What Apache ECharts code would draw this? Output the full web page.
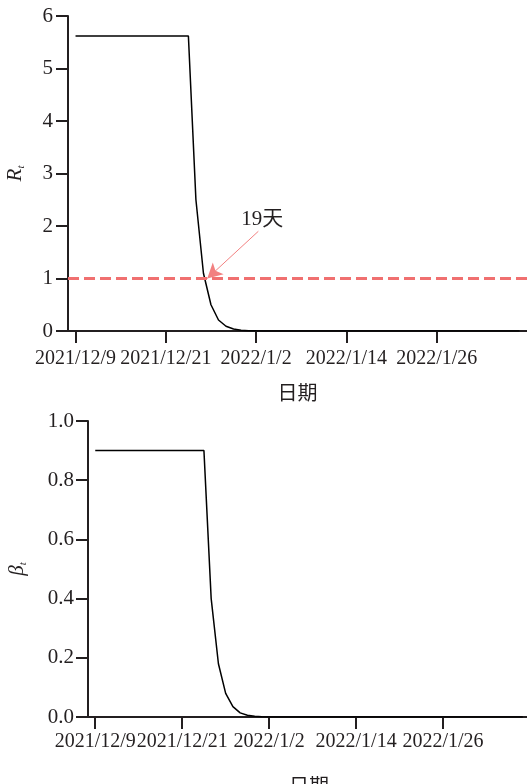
<!DOCTYPE html>
<html>
<head>
<meta charset="utf-8">
<script src="https://cdn.jsdelivr.net/npm/echarts@6/dist/echarts.min.js"></script>
<style>
  html, body { margin: 0; padding: 0; background: #fff; }
  #chart { width: 527px; height: 784px; }
</style>
</head>
<body>
<div id="chart"></div>
<script>
// 日期刻度（x 轴按天计，0 = 2021/12/9）
var tickDays = [0, 12, 24, 36, 48];
var tickLabels = ['2021/12/9', '2021/12/21', '2022/1/2', '2022/1/14', '2022/1/26'];

// R_t 每日取值，从 2021/12/9 起
var rValues = [
  5.62, 5.62, 5.62, 5.62, 5.62, 5.62, 5.62, 5.62, 5.62, 5.62,
  5.62, 5.62, 5.62, 5.62, 5.62, 5.62, 2.5, 1.1, 0.5, 0.21,
  0.09, 0.037, 0.015, 0.006, 0.0025, 0.001, 0, 0, 0, 0,
  0, 0, 0, 0, 0, 0, 0, 0, 0, 0,
  0, 0, 0, 0, 0, 0, 0, 0, 0, 0,
  0, 0, 0, 0, 0, 0, 0, 0, 0, 0
];

// beta_t 每日取值，从 2021/12/9 起
var betaValues = [
  0.9, 0.9, 0.9, 0.9, 0.9, 0.9, 0.9, 0.9, 0.9, 0.9,
  0.9, 0.9, 0.9, 0.9, 0.9, 0.9, 0.40, 0.18, 0.08, 0.035,
  0.014, 0.006, 0.0024, 0.001, 0.0004, 0, 0, 0, 0, 0,
  0, 0, 0, 0, 0, 0, 0, 0, 0, 0,
  0, 0, 0, 0, 0, 0, 0, 0, 0, 0,
  0, 0, 0, 0, 0, 0, 0, 0, 0, 0
];

var threshold = 1;          // R_t = 1 参考线
var noteText = '19天';
var notePoint = [24.8, 2.13];  // 文字位置（天, 值）
var arrowFrom = [24.3, 1.9];
var arrowTo = [17.5, 1.0];

var FONT = "'Liberation Serif', 'Times New Roman', 'Noto Sans CJK SC', serif";
var INK = '#231f20';

function toPairs (arr) {
  return arr.map(function (v, i) { return [i, v]; });
}

function xAxisOf (gridIndex, nameGap, margin) {
  return {
    type: 'value',
    gridIndex: gridIndex,
    min: -1,
    max: 60,
    name: '日期',
    nameLocation: 'middle',
    nameGap: nameGap,
    nameTextStyle: { fontFamily: FONT, fontSize: 20, color: INK },
    splitLine: { show: false },
    axisLine: { onZero: false, lineStyle: { color: INK, width: 2 } },
    axisTick: { show: true, length: 12, lineStyle: { color: INK, width: 2 }, customValues: tickDays },
    axisLabel: {
      customValues: tickDays,
      hideOverlap: false,
      margin: margin,
      fontFamily: FONT,
      fontSize: 20,
      lineHeight: 16,
      color: INK,
      formatter: function (v) {
        var i = tickDays.indexOf(v);
        return i >= 0 ? tickLabels[i] : '';
      }
    }
  };
}

function yRich () {
  return {
    v: { fontFamily: FONT, fontStyle: 'italic', fontSize: 21, color: INK, lineHeight: 24 },
    s: { fontFamily: FONT, fontStyle: 'italic', fontSize: 11, color: INK, lineHeight: 12, verticalAlign: 'bottom' }
  };
}

var myChart = echarts.init(document.getElementById('chart'));
myChart.setOption({
  animation: false,
  grid: [
    { left: 68, right: 0, top: 16, height: 315, outerBoundsMode: 'none', containLabel: false },
    { left: 88, right: -3, top: 421, height: 296, outerBoundsMode: 'none', containLabel: false }
  ],
  xAxis: [xAxisOf(0, 54, 20), xAxisOf(1, 61, 17)],
  yAxis: [
    {
      type: 'value',
      gridIndex: 0,
      min: 0,
      max: 6,
      interval: 1,
      name: '{v|R}{s|t}',
      nameLocation: 'middle',
      nameGap: 41,
      nameTextStyle: { rich: yRich() },
      splitLine: { show: false },
      axisLine: { show: true, onZero: false, lineStyle: { color: INK, width: 2 } },
      axisTick: { show: true, length: 12, lineStyle: { color: INK, width: 2 } },
      axisLabel: { margin: 15, fontFamily: FONT, fontSize: 21, lineHeight: 14, color: INK }
    },
    {
      type: 'value',
      gridIndex: 1,
      min: 0,
      max: 1,
      interval: 0.2,
      name: '{v|β}{s|t}',
      nameLocation: 'middle',
      nameGap: 59,
      nameTextStyle: { rich: yRich() },
      splitLine: { show: false },
      axisLine: { show: true, onZero: false, lineStyle: { color: INK, width: 2 } },
      axisTick: { show: true, length: 12, lineStyle: { color: INK, width: 2 } },
      axisLabel: {
        margin: 14, fontFamily: FONT, fontSize: 21, lineHeight: 14, color: INK,
        formatter: function (v) { return v.toFixed(1); }
      }
    }
  ],
  series: [
    {
      type: 'line',
      xAxisIndex: 0,
      yAxisIndex: 0,
      data: toPairs(rValues),
      showSymbol: false,
      lineStyle: { color: '#000', width: 1.5 },
      markLine: {
        silent: true,
        symbol: 'none',
        label: { show: false },
        data: [
          {
            yAxis: threshold,
            lineStyle: { color: '#f07070', width: 3, type: [11, 5] }
          },
          [
            { coord: arrowFrom, symbol: 'none' },
            { coord: arrowTo, symbol: 'arrow', symbolSize: [12, 15] }
          ]
        ],
        lineStyle: { color: '#f28080', width: 1, type: 'solid' }
      },
      markPoint: {
        silent: true,
        symbolSize: 0,
        data: [{ coord: notePoint }],
        label: {
          show: true,
          position: 'inside',
          formatter: noteText,
          fontFamily: FONT,
          fontSize: 21,
          color: INK
        }
      }
    },
    {
      type: 'line',
      xAxisIndex: 1,
      yAxisIndex: 1,
      data: toPairs(betaValues),
      showSymbol: false,
      lineStyle: { color: '#000', width: 1.5 }
    }
  ]
});
</script>
</body>
</html>
